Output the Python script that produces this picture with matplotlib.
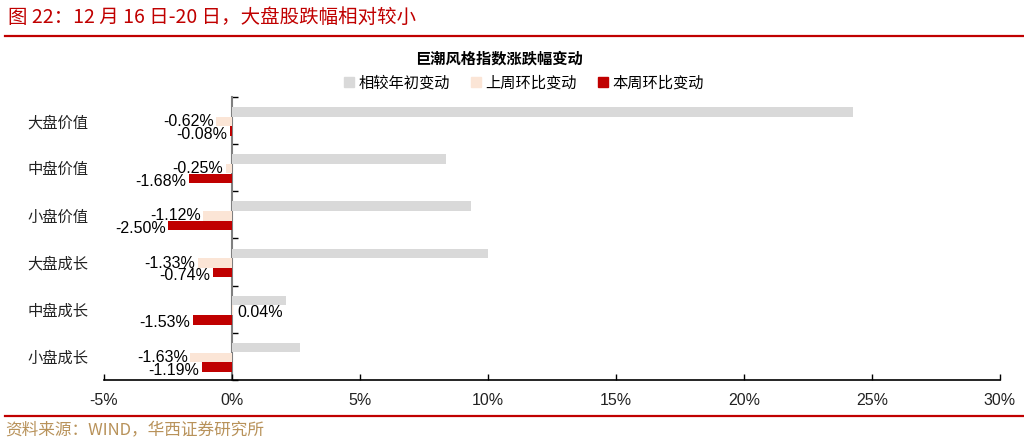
import numpy as np
import matplotlib
matplotlib.use('Agg')
import matplotlib.pyplot as plt
from matplotlib.patches import Patch
from matplotlib.lines import Line2D
from matplotlib.ticker import FuncFormatter

plt.rcParams['font.family'] = ['Liberation Sans', 'Noto Sans CJK SC']

# data (values in %)
categories = ['大盘价值', '中盘价值', '小盘价值', '大盘成长', '中盘成长', '小盘成长']
ytd_chg  = [24.27, 8.36, 9.32, 10.00, 2.10, 2.67]     # 相较年初变动
last_wk  = [-0.62, -0.25, -1.12, -1.33, 0.04, -1.63]  # 上周环比变动
this_wk  = [-0.08, -1.68, -2.50, -0.74, -1.53, -1.19] # 本周环比变动
series_names = ['相较年初变动', '上周环比变动', '本周环比变动']
xticks = [-5, 0, 5, 10, 15, 20, 25, 30]

c_gray, c_peach, c_red = '#D9D9D9', '#FBE5D6', '#C00000'

fig = plt.figure(figsize=(10.24, 4.4), dpi=100)
W, H = 1024, 440
ax = fig.add_axes([104/W, 1-380/H, 896/W, 283/H])

y = np.arange(len(categories))
h = 0.2
offs = [-0.185, 0.02, 0.225]
ax.barh(y + offs[0], ytd_chg, height=h, color=c_gray, zorder=2)
ax.barh(y + offs[1], last_wk, height=h, color=c_peach, zorder=2)
ax.barh(y + offs[2], this_wk, height=h, color=c_red, zorder=2)

# data labels for the weekly changes
for vals, off, dy in [(last_wk, offs[1], 0), (this_wk, offs[2], -2.2)]:
    for yi, v in zip(y, vals):
        if v < 0:
            ax.annotate('{:.2f}%'.format(v), xy=(v, yi + off), xytext=(-1.8, dy),
                        textcoords='offset points', ha='right', va='center',
                        fontsize=11.5, color='black', zorder=3)
        else:
            ax.annotate('{:.2f}%'.format(v), xy=(v, yi + off), xytext=(3, dy - 1.5),
                        textcoords='offset points', ha='left', va='center',
                        fontsize=11.5, color='black', zorder=3)

ax.set_xlim(-5, 30)
ax.set_ylim(len(categories) - 0.5, -0.5)
ax.set_xticks(xticks)
ax.xaxis.set_major_formatter(FuncFormatter(lambda v, p: '{:.0f}%'.format(v)))
ax.set_yticks(y)
ax.set_yticklabels(categories, fontsize=11, family='Noto Sans CJK SC')
ax.tick_params(axis='y', length=0, pad=11, labelcolor='#222222')
ax.tick_params(axis='x', direction='in', length=4, width=1, pad=9.5,
               labelsize=11.5, color='black', labelcolor='#222222')

for s in ['top', 'right', 'left']:
    ax.spines[s].set_visible(False)
ax.spines['bottom'].set_linewidth(1.2)

# zero line with category separators
sec = ax.secondary_yaxis(5/35)
sec.set_yticks(np.arange(-0.5, len(categories), 1.0))
sec.set_yticklabels([])
sec.tick_params(direction='in', length=4, width=1, color='black')
sec.spines['left'].set_color('#808080')
sec.spines['left'].set_linewidth(1.5)

# chart title and legend
fig.text(499/W, 1-58/H, '巨潮风格指数涨跌幅变动', ha='center', va='center',
         fontsize=11, fontweight='bold', family='Noto Sans CJK SC')
handles = [Patch(color=c) for c in [c_gray, c_peach, c_red]]
fig.legend(handles, series_names, loc='center', bbox_to_anchor=(524/W, 1-83/H),
           ncol=3, frameon=False, handlelength=0.65, handleheight=0.65,
           handletextpad=0.3, columnspacing=1.4,
           prop={'family': 'Noto Sans CJK SC', 'size': 11})

# header & footer
fig.text(8/W, 1-17/H, '图 22：12 月 16 日-20 日，大盘股跌幅相对较小',
         ha='left', va='center', fontsize=14, color=c_red,
         family=['Noto Sans CJK SC', 'DejaVu Sans'])
fig.add_artist(Line2D([5/W, 1.0], [1-36/H, 1-36/H], color=c_red, lw=1.6))
fig.add_artist(Line2D([5/W, 1.0], [1-416/H, 1-416/H], color=c_red, lw=1.6))
fig.text(5/W, 1-430/H, '资料来源：WIND，华西证券研究所', ha='left', va='center',
         fontsize=12, color='#B8925A', family=['Noto Sans CJK SC', 'DejaVu Sans'])

fig.savefig('out.png', dpi=100)
